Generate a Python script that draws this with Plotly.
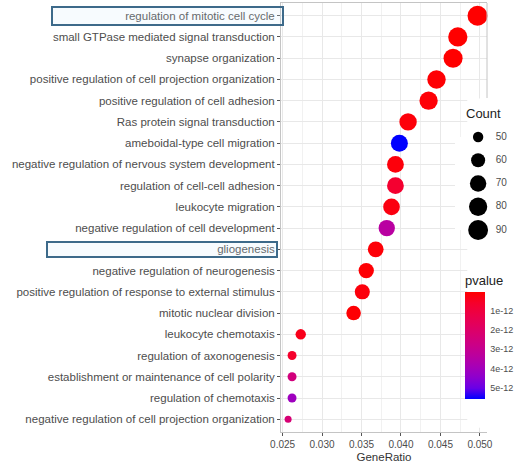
import plotly.graph_objects as go

# GO terms, top to bottom as in the chart
terms = [
    "regulation of mitotic cell cycle",
    "small GTPase mediated signal transduction",
    "synapse organization",
    "positive regulation of cell projection organization",
    "positive regulation of cell adhesion",
    "Ras protein signal transduction",
    "ameboidal-type cell migration",
    "negative regulation of nervous system development",
    "regulation of cell-cell adhesion",
    "leukocyte migration",
    "negative regulation of cell development",
    "gliogenesis",
    "negative regulation of neurogenesis",
    "positive regulation of response to external stimulus",
    "mitotic nuclear division",
    "leukocyte chemotaxis",
    "regulation of axonogenesis",
    "establishment or maintenance of cell polarity",
    "regulation of chemotaxis",
    "negative regulation of cell projection organization",
]
gene_ratio = [0.0497, 0.0472, 0.0466, 0.0445, 0.0435, 0.0409, 0.0398, 0.0393, 0.0393, 0.0388,
              0.0382, 0.0368, 0.0356, 0.0351, 0.0340, 0.0273, 0.0262, 0.0262, 0.0262, 0.0257]
counts = [91, 86, 85, 81, 80, 75, 73, 72, 72, 71, 70, 67, 65, 64, 62, 50, 48, 48, 48, 47]
pvalues = [1e-15, 3e-15, 2e-15, 5e-14, 8e-14, 1.2e-13, 5.6e-12, 1.5e-13, 7e-13, 2.2e-13,
           3.4e-12, 1e-13, 6e-14, 1.6e-13, 4e-14, 3.5e-13, 6e-13, 2.5e-12, 4.1e-12, 2.3e-12]

# legend breaks
count_breaks = [50, 60, 70, 80, 90]
pvalue_ticks = [1e-12, 2e-12, 3e-12, 4e-12, 5e-12]
pvalue_ticktext = ["1e-12", "2e-12", "3e-12", "4e-12", "5e-12"]

W, H = 523, 465
PL, PR, PT, PB = 281, 487, 3, 432   # panel edges in pixels


# size scale like ggplot's area scale
def dot_size(c, dmin=7, dmax=20):
    lo, hi = min(counts), max(counts)
    return dmin + (dmax - dmin) * ((c - lo) / (hi - lo)) ** 0.5


# red -> blue gradient interpolated in Lab, as ggplot does
def hex_to_lab(h):
    rgb = [int(h[i:i + 2], 16) / 255 for i in (1, 3, 5)]
    r, g, b = [c / 12.92 if c <= 0.04045 else ((c + 0.055) / 1.055) ** 2.4 for c in rgb]
    X = (0.4124 * r + 0.3576 * g + 0.1805 * b) / 0.95047
    Y = 0.2126 * r + 0.7152 * g + 0.0722 * b
    Z = (0.0193 * r + 0.1192 * g + 0.9505 * b) / 1.08883
    f = lambda t: t ** (1 / 3) if t > 0.008856 else 7.787 * t + 16 / 116
    return 116 * f(Y) - 16, 500 * (f(X) - f(Y)), 200 * (f(Y) - f(Z))


def lab_to_hex(L, a, b):
    fy = (L + 16) / 116
    fx, fz = fy + a / 500, fy - b / 200
    finv = lambda t: t ** 3 if t ** 3 > 0.008856 else (t - 16 / 116) / 7.787
    X, Y, Z = 0.95047 * finv(fx), finv(fy), 1.08883 * finv(fz)
    lin = [3.2406 * X - 1.5372 * Y - 0.4986 * Z,
           -0.9689 * X + 1.8758 * Y + 0.0415 * Z,
           0.0557 * X - 0.2040 * Y + 1.0570 * Z]
    out = []
    for c in lin:
        c = 12.92 * c if c <= 0.0031308 else 1.055 * c ** (1 / 2.4) - 0.055
        out.append(int(round(max(0, min(1, c)) * 255)))
    return "#%02x%02x%02x" % tuple(out)


red, blue = hex_to_lab("#ff0000"), hex_to_lab("#0000ff")
# colour is mapped on -pvalue so that red (small p) sits on top of the colorbar
scale = []
for i in range(11):
    t = i / 10
    lab = [blue[k] + (red[k] - blue[k]) * t for k in range(3)]
    scale.append([t, lab_to_hex(*lab)])

fig = go.Figure()

fig.add_trace(go.Scatter(
    x=gene_ratio, y=terms,
    mode="markers",
    marker=dict(
        size=[dot_size(c) for c in counts],
        color=[-p for p in pvalues],
        colorscale=scale,
        cmin=-max(pvalues), cmax=-min(pvalues),
        line=dict(width=0),
        opacity=1,
        colorbar=dict(
            title=dict(text="pvalue", side="top", font=dict(size=13, color="#222")),
            x=465 / W, xanchor="left", y=(H - 272) / H, yanchor="top",
            len=127, lenmode="pixels", thickness=20, outlinewidth=0,
            tickvals=[-p for p in pvalue_ticks], ticktext=pvalue_ticktext,
            ticks="outside", ticklen=4, tickcolor="rgba(0,0,0,0)",
            tickfont=dict(size=9, color="#4d4d4d"), xpad=0, ypad=0,
        ),
    ),
    showlegend=False,
    cliponaxis=False,
))

# size legend on its own small axes
fig.add_trace(go.Scatter(
    x=[0.34] * len(count_breaks), y=count_breaks,
    mode="markers",
    marker=dict(size=[dot_size(c) for c in count_breaks], color="#000000",
                line=dict(width=0), opacity=1),
    xaxis="x2", yaxis="y2", showlegend=False, cliponaxis=False,
))
fig.add_trace(go.Scatter(
    x=[0.6] * len(count_breaks), y=count_breaks,
    mode="text", text=[str(c) for c in count_breaks],
    textposition="middle right", textfont=dict(size=10, color="#4d4d4d"),
    xaxis="x2", yaxis="y2", showlegend=False, cliponaxis=False,
))


def px_y(py):
    return (PB - py) / (PB - PT)


shapes = [
    # white legend backdrop over the panel
    dict(type="rect", xref="x", yref="y", layer="between",
         x0=0.0484, x1=0.0520, y0=-0.4, y1=15.1,
         fillcolor="white", line=dict(width=0)),
    # right panel border above the legend
    dict(type="line", xref="x domain", yref="y domain", layer="above",
         x0=1, x1=1, y0=px_y(98), y1=1, line=dict(color="#c4c4c4", width=1)),
    # highlight boxes
    dict(type="rect", xref="paper", yref="paper", layer="above",
         x0=52 / W, x1=283 / W, y0=(H - 25) / H, y1=(H - 7) / H,
         fillcolor="rgba(210,235,250,0.18)", line=dict(color="#3d6a8a", width=2)),
    dict(type="rect", xref="paper", yref="paper", layer="above",
         x0=47 / W, x1=277 / W, y0=(H - 257) / H, y1=(H - 242) / H,
         fillcolor="rgba(210,235,250,0.18)", line=dict(color="#3d6a8a", width=2)),
]

fig.update_layout(
    width=W, height=H,
    margin=dict(l=0, r=0, t=0, b=0),
    paper_bgcolor="white", plot_bgcolor="white",
    font=dict(family="Liberation Sans, Arial, sans-serif", color="#4d4d4d"),
    xaxis=dict(
        domain=[PL / W, PR / W], range=[0.0248, 0.0509],
        tickvals=[0.025, 0.030, 0.035, 0.040, 0.045, 0.050], tickformat=".3f",
        ticks="outside", ticklen=3, tickcolor="#555", tickfont=dict(size=10, color="#4d4d4d"),
        showgrid=True, gridcolor="#e8e8e8", gridwidth=1,
        minor=dict(dtick=0.0025, tick0=0.0275, showgrid=True, gridcolor="#f1f1f1", gridwidth=1),
        showline=True, mirror=True, linecolor="#c4c4c4", linewidth=1, zeroline=False,
        title=dict(text="GeneRatio", font=dict(size=11.5, color="#333"), standoff=3),
        automargin=False,
    ),
    yaxis=dict(
        domain=[(H - PB) / H, (H - PT) / H],
        type="category", categoryorder="array", categoryarray=terms[::-1],
        range=[-0.6, len(terms) - 0.4],
        ticks="outside", ticklen=3, tickcolor="#555", tickfont=dict(size=11.5, color="#4d4d4d"),
        showgrid=True, gridcolor="#e8e8e8", gridwidth=1,
        showline=True, linecolor="#c4c4c4", linewidth=1, zeroline=False,
        automargin=False,
    ),
    xaxis2=dict(domain=[455 / W, 1], range=[0, 1], visible=False, anchor="y2"),
    yaxis2=dict(domain=[(H - 230) / H, (H - 137) / H], range=[90, 50],
                visible=False, anchor="x2"),
    shapes=shapes,
    annotations=[dict(text="Count", x=464 / W, y=(H - 114) / H, xref="paper", yref="paper",
                      xanchor="left", yanchor="middle", showarrow=False,
                      font=dict(size=13, color="#222"))],
)

# drop the page's default body margin so the figure sits at the window corner
fig.write_html("out.html", config={"displayModeBar": False},
               post_script="document.body.style.margin = '0';")
